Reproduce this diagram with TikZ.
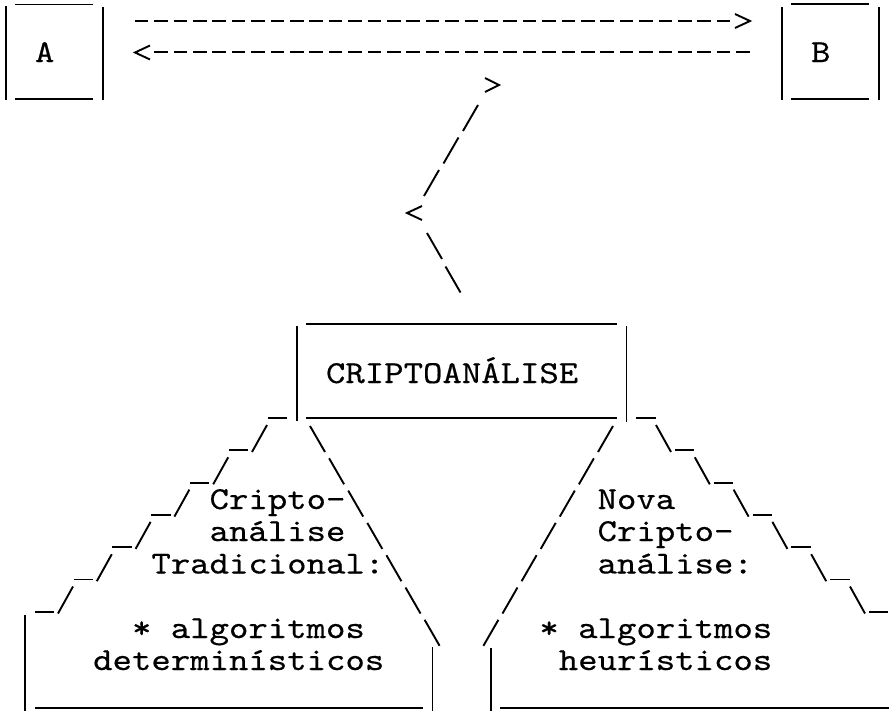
\documentclass[tikz,border=0pt]{standalone}
\usepackage{graphicx}
\usepackage{fontspec}
\usetikzlibrary{calc}
\newfontfamily\typewriter{lmmono10-regular.otf}[FakeBold=0.4]
\newcommand{\cw}[1]{\scalebox{1.155}[1]{#1}}
\tikzset{
  ink/.style={line width=1.9pt, black},
  dashrule/.style={ink, dash pattern=on 13.5pt off 5.9pt},
  chevron/.style={ink, line join=miter},
  label/.style={inner sep=0pt, anchor=base west, font=\typewriter\fontsize{32}{32}\selectfont},
}
\begin{document}
\begin{tikzpicture}[x=1pt, y=-1pt]
\useasboundingbox (0,0) rectangle (896,712);

% ---- box A ----
\node[label] (A) at (34.8,62) {\cw{A}};
\draw[ink] (5.7,6) -- (5.7,100);
\draw[ink] (15.4,4.5) -- (93,4.5);
\draw[ink] (15.4,99) -- (93,99);
\draw[ink] (102.7,7) -- (102.7,100);

% ---- box B ----
\node[label] (B) at (810.8,62) {\cw{B}};
\draw[ink] (781.7,7) -- (781.7,100);
\draw[ink] (791.4,4) -- (869,4);
\draw[ink] (791.4,99) -- (869,99);
\draw[ink] (878.7,7) -- (878.7,100);

% ---- A <--> B ----
\coordinate (ab-start) at (134.8,21);
\coordinate (ab-end) at (730.3,21);
\coordinate (ab-tip) at (750,21);
\draw[dashrule] (ab-start) -- (ab-end);
\draw[chevron] ($(ab-tip)+(-15,-7)$) -- (ab-tip) -- ($(ab-tip)+(-15,7)$);

\coordinate (ba-start) at (749.7,52);
\coordinate (ba-end) at (154.2,52);
\coordinate (ba-tip) at (135,52.5);
\draw[dashrule] (ba-start) -- (ba-end);
\draw[chevron] ($(ba-tip)+(15,-7)$) -- (ba-tip) -- ($(ba-tip)+(15,7)$);

% ---- zig-zag link down to the analysis box ----
\coordinate (zz-top) at (499,85);
\draw[chevron] ($(zz-top)+(-14,-7)$) -- (zz-top) -- ($(zz-top)+(-14,7)$);
\foreach \k in {0,1,2}
  \draw[ink] ({478-19.5*\k},{105+32.5*\k}) -- ++(-15,26);
\coordinate (zz-mid) at (407,213);
\draw[chevron] ($(zz-mid)+(15,-7)$) -- (zz-mid) -- ($(zz-mid)+(15,7)$);
\foreach \k in {0,1}
  \draw[ink] ({427+18.5*\k},{233+33.5*\k}) -- ++(15,26);

% ---- CRIPTOANALISE box ----
\node[label] (cripto) at (325.8,383) {\cw{CRIPTOANÁLISE}};
\draw[ink] (296.7,326) -- (296.7,421);
\draw[ink] (306.4,324) -- (616.8,324);
\draw[ink] (306.4,418) -- (616.8,418);
\draw[ink] (626.5,326) -- (626.5,422);

% ---- stepped outlines ----
\foreach \k in {0,...,6}
  \draw[ink] ({267.6-38.8*\k},{418+32.3*\k}) -- ++(19.4,0);
\foreach \k in {0,...,5}
  \draw[ink] ({267-38.8*\k},{425+32.3*\k}) -- ++(-15,27);
\foreach \k in {0,...,6}
  \draw[ink] ({636.2+38.8*\k},{418+32.3*\k}) -- ++(19.4,0);
\foreach \k in {0,...,5}
  \draw[ink] ({656+38.8*\k},{425+32.3*\k}) -- ++(15,27);

% ---- inner dashed slopes ----
\foreach \k in {0,...,6}
  \draw[ink] ({310+19.1*\k},{426+32.3*\k}) -- ++(15,26);
\foreach \k in {0,...,6}
  \draw[ink] ({613-19.1*\k},{426+32.3*\k}) -- ++(-15,26);

% ---- left box ----
\node[label] (l1) at (209.4,509) {\cw{Cripto-}};
\node[label] (l2) at (209.4,541) {\cw{análise}};
\node[label] (l3) at (151.2,573.5) {\cw{Tradicional:}};
\node[label] (l4) at (131.8,638) {\cw{* algoritmos}};
\node[label] (l5) at (93,670) {\cw{determinísticos}};
\draw[ink] (25.1,615) -- (25.1,711);
\draw[ink] (34.8,708) -- (422.8,708);
\draw[ink] (432.5,647) -- (432.5,711);

% ---- right box ----
\node[label] (r1) at (597.4,509) {\cw{Nova}};
\node[label] (r2) at (597.4,541) {\cw{Cripto-}};
\node[label] (r3) at (597.4,573.5) {\cw{análise:}};
\node[label] (r4) at (539.2,638) {\cw{* algoritmos}};
\node[label] (r5) at (558.6,670) {\cw{heurísticos}};
\draw[ink] (490.7,648) -- (490.7,711);
\draw[ink] (500.4,708) -- (888.8,708);
\end{tikzpicture}
\end{document}
